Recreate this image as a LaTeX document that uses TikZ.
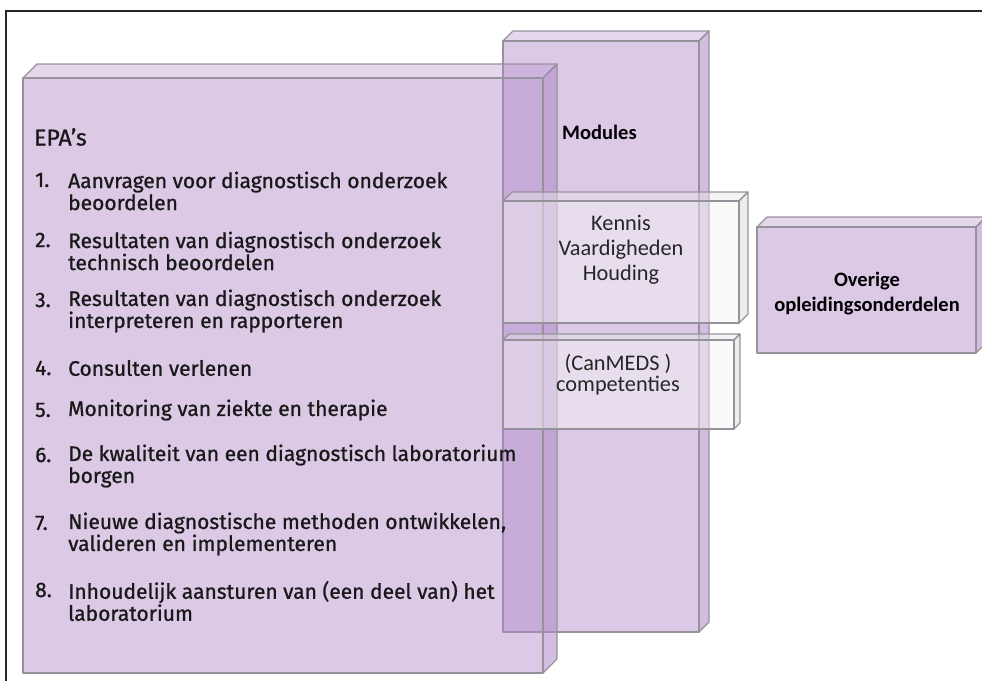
\documentclass[tikz,border=0pt]{standalone}
\usepackage{fontspec}
\setmainfont{Carlito}
\newfontfamily\epafont{Fira Sans}[FakeBold=0.9]
\definecolor{lilac}{RGB}{176,136,200}
\definecolor{boxline}{RGB}{150,146,156}
\definecolor{paleface}{RGB}{232,232,232}
\definecolor{darktext}{RGB}{38,38,38}
\tikzset{
  edgeline/.style={draw=boxline, line width=1.1pt, line join=round},
  purpletop/.style={edgeline, fill=lilac, fill opacity=0.32},
  purpleside/.style={edgeline, fill=lilac, fill opacity=0.55},
  purplefront/.style={edgeline, fill=lilac, fill opacity=0.45},
  greytop/.style={edgeline, fill=paleface, fill opacity=0.45},
  greyside/.style={edgeline, fill=paleface, fill opacity=0.75},
  greyfront/.style={edgeline, fill=white!60!paleface, fill opacity=0.45},
  epatext/.style={font=\epafont\fontsize{21}{22}\selectfont, anchor=west, inner sep=0pt, align=left, text=black!90},
  boxtext/.style={font=\fontsize{22.3}{25}\selectfont, align=center, inner sep=0pt, text=darktext},
}
% #1 x1, #2 y1 (top), #3 x2, #4 y2 (bottom), #5 depth, #6 style prefix
\newcommand{\cuboid}[6]{%
  \path[#6top] (#1,#2) -- ({#1+#5},{#2-#5}) -- ({#3+#5},{#2-#5}) -- (#3,#2) -- cycle;
  \path[#6side] (#3,#2) -- ({#3+#5},{#2-#5}) -- ({#3+#5},{#4-#5}) -- (#3,#4) -- cycle;
  \path[#6front] (#1,#2) rectangle (#3,#4);
}
\begin{document}
\begin{tikzpicture}[x=1pt,y=-1pt]
\useasboundingbox (0,0) rectangle (982,681);
\fill[white] (0,0) rectangle (982,681);
% frame
\draw[line width=2.2pt, black!85] (982,11) -- (6,11) -- (6,681);
% boxes
\cuboid{503}{41}{699}{632}{10}{purple}
\cuboid{23}{78}{543}{673}{14}{purple}
\cuboid{757}{227}{976}{353}{10}{purple}
\cuboid{503}{201}{739}{323}{9}{grey}
\cuboid{503}{340}{734}{429}{6}{grey}
% EPA texts
\node[epatext, font=\epafont\fontsize{23}{24}\selectfont] (epa) at (34,137) {EPA’s};
\node[epatext] (n1) at (35,180) {1.};
\node[epatext] (t1) at (68,191) {Aanvragen voor diagnostisch onderzoek\\beoordelen};
\node[epatext] (n2) at (35,240) {2.};
\node[epatext] (t2) at (68,251) {Resultaten van diagnostisch onderzoek\\technisch beoordelen};
\node[epatext] (n3) at (35,300) {3.};
\node[epatext] (t3) at (68,311) {Resultaten van diagnostisch onderzoek\\interpreteren en rapporteren};
\node[epatext] (n4) at (35,368) {4.};
\node[epatext] (t4) at (68,368) {Consulten verlenen};
\node[epatext] (n5) at (35,410) {5.};
\node[epatext] (t5) at (68,410) {Monitoring van ziekte en therapie};
\node[epatext] (n6) at (35,455) {6.};
\node[epatext] (t6) at (68,466) {De kwaliteit van een diagnostisch laboratorium\\borgen};
\node[epatext] (n7) at (35,523) {7.};
\node[epatext] (t7) at (68,534) {Nieuwe diagnostische methoden ontwikkelen,\\valideren en implementeren};
\node[epatext] (n8) at (35,590) {8.};
\node[epatext] (t8) at (68,601) {Inhoudelijk aansturen van (een deel van) het\\laboratorium};
% other texts
\node[boxtext, font=\bfseries\fontsize{20.5}{24}\selectfont, text=black, anchor=west] (mod) at (562,132) {Modules};
\node[boxtext] (kvh) at (621,250) {Kennis\\Vaardigheden\\Houding};
\node[boxtext, font=\fontsize{22.3}{21}\selectfont] (can) at (618,375) {(CanMEDS )\\competenties};
\node[boxtext, font=\bfseries\fontsize{20.5}{25}\selectfont, text=black] (ovr) at (867,294) {Overige\\opleidingsonderdelen};
\end{tikzpicture}
\end{document}
